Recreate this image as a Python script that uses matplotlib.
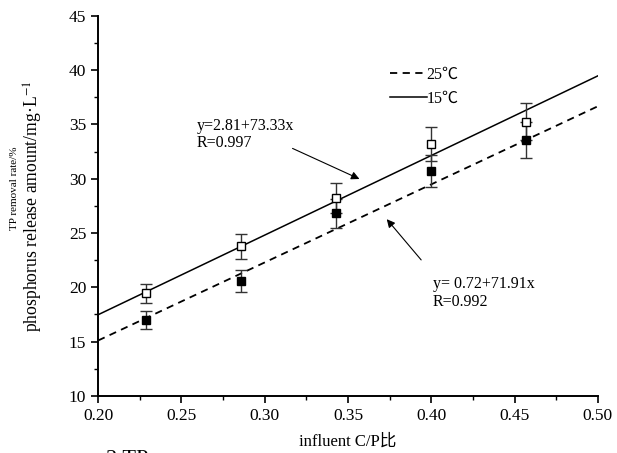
import numpy as np
import matplotlib
matplotlib.use('Agg')
import matplotlib.pyplot as plt
from matplotlib.ticker import MultipleLocator

plt.rcParams['font.family'] = ['Liberation Serif', 'Noto Sans CJK SC']
plt.rcParams['mathtext.fontset'] = 'stix'

# data
cp_ratio = [0.229, 0.286, 0.343, 0.400, 0.457]
release_15 = [19.45, 23.8, 28.2, 33.2, 35.25]
err_15 = [0.9, 1.15, 1.4, 1.6, 1.7]
release_25 = [17.0, 20.6, 26.8, 30.7, 33.6]
err_25 = [0.85, 1.0, 1.3, 1.5, 1.65]

# fitted lines (intercept, slope) as printed on the chart
fit_15 = (2.81, 73.33)
fit_25 = (0.72, 71.91)
x_fit = [0.20, 0.50]

fig = plt.figure(figsize=(6.17, 4.53), dpi=100)
ax = fig.add_axes([0.159, 0.126, 0.81, 0.839])

ax.plot(x_fit, [fit_25[0] + fit_25[1] * x for x in x_fit], 'k--', lw=1.3, dashes=(4, 3), label='25\u2103')
ax.plot(x_fit, [fit_15[0] + fit_15[1] * x for x in x_fit], 'k-', lw=1.1, label='15\u2103')

ax.errorbar(cp_ratio, release_15, yerr=err_15, fmt='s', mfc='white', mec='black', ms=6,
            ecolor='#333333', elinewidth=1, capsize=4, capthick=1)
ax.errorbar(cp_ratio, release_25, yerr=err_25, fmt='s', mfc='black', mec='black', ms=6,
            ecolor='#333333', elinewidth=1, capsize=4, capthick=1)

ax.set_xlim(0.20, 0.50)
ax.set_ylim(10, 45)
ax.xaxis.set_major_locator(MultipleLocator(0.05))
ax.xaxis.set_minor_locator(MultipleLocator(0.025))
ax.yaxis.set_major_locator(MultipleLocator(5))
ax.yaxis.set_minor_locator(MultipleLocator(2.5))
ax.xaxis.set_major_formatter(matplotlib.ticker.FormatStrFormatter('%.2f'))
ax.tick_params(which='major', direction='out', length=5, width=1.2, labelsize=12.5)
ax.tick_params(which='minor', direction='out', length=3, width=1)
for s in ['top', 'right']:
    ax.spines[s].set_visible(False)
for s in ['left', 'bottom']:
    ax.spines[s].set_linewidth(1.4)

ax.set_xlabel('influent C/P\u6bd4', fontsize=12)
ax.xaxis.set_label_coords(0.5, -0.1)
ax.set_ylabel('phosphorus release amount/mg\u00b7L$^{-1}$', fontsize=12.7)
ax.yaxis.set_label_coords(-0.106, 0.5)
fig.text(0.024, 0.585, 'TP removal rate/%', rotation=90, fontsize=8, ha='center', va='center')
fig.text(0.172, 0.006, '2 TP', fontsize=16, ha='left', va='top')

leg = ax.legend(loc='upper left', bbox_to_anchor=(0.555, 0.905), frameon=False, fontsize=11.5,
                handlelength=2.3, handletextpad=0.0, labelspacing=0.5)

ax.annotate('', xy=(0.3584, 29.87), xytext=(0.3152, 32.9),
            arrowprops=dict(arrowstyle='-|>', color='black', lw=0.8, mutation_scale=12))
ax.text(0.2594, 35.6, 'y=2.81+73.33x\nR=0.997', fontsize=11.5, ha='left', va='top', linespacing=1.1)
ax.annotate('', xy=(0.3722, 26.47), xytext=(0.395, 22.33),
            arrowprops=dict(arrowstyle='-|>', color='black', lw=0.8, mutation_scale=12))
ax.text(0.401, 21.0, 'y= 0.72+71.91x\nR=0.992', fontsize=11.5, ha='left', va='top', linespacing=1.1)

fig.savefig('out.png', dpi=100)
